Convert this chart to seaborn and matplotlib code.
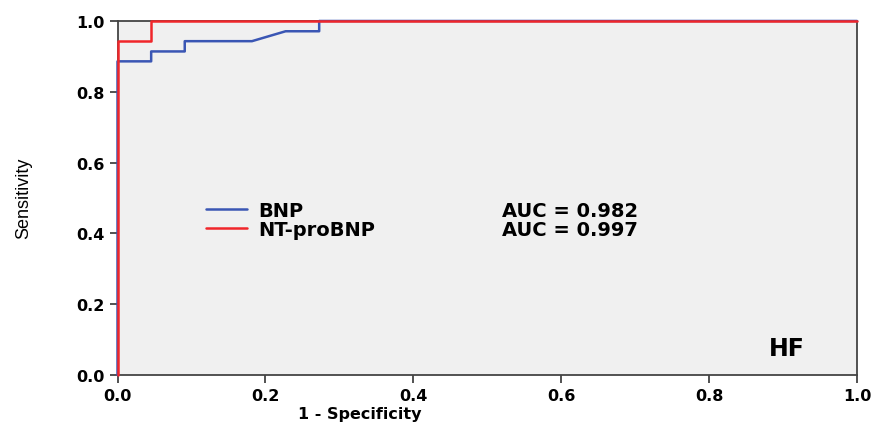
import matplotlib
matplotlib.use("Agg")
import matplotlib.pyplot as plt
import seaborn as sns
import pandas as pd
from matplotlib.lines import Line2D

# ROC points
bnp_fpr = [0.0, 0.0, 0.0455, 0.0455, 0.0909, 0.0909, 0.1818, 0.2273, 0.2727, 0.2727, 1.0]
bnp_tpr = [0.0, 0.886, 0.886, 0.914, 0.914, 0.943, 0.943, 0.971, 0.971, 1.0, 1.0]
nt_fpr = [0.0, 0.0, 0.0455, 0.0455, 1.0]
nt_tpr = [0.0, 0.943, 0.943, 1.0, 1.0]
series_names = ["BNP", "NT-proBNP"]
auc_labels = ["AUC = 0.982", "AUC = 0.997"]
ticks = [0.0, 0.2, 0.4, 0.6, 0.8, 1.0]
colors = {"BNP": "#3A56B4", "NT-proBNP": "#F0262A"}

df = pd.concat([
    pd.DataFrame({"fpr": bnp_fpr, "tpr": bnp_tpr, "test": "BNP"}),
    pd.DataFrame({"fpr": nt_fpr, "tpr": nt_tpr, "test": "NT-proBNP"}),
])

sns.set_style("white")
plt.rcParams["font.family"] = ["DejaVu Sans"]
plt.rcParams["text.color"] = "black"
plt.rcParams["axes.labelcolor"] = "black"
plt.rcParams["xtick.color"] = "black"
plt.rcParams["ytick.color"] = "black"

fig = plt.figure(figsize=(8.79, 4.27), dpi=100)
ax = fig.add_axes([0.1337, 0.1194, 0.8413, 0.8291])
ax.set_facecolor("#F0F0F0")

for name in series_names:
    sub = df[df["test"] == name]
    sns.lineplot(data=sub, x="fpr", y="tpr", sort=False, estimator=None,
                 color=colors[name], lw=1.8, ax=ax, legend=False,
                 zorder=3, clip_on=False)

ax.set_xlim(0, 1)
ax.set_ylim(0, 1)
ax.set_xticks(ticks)
ax.set_yticks(ticks)
ax.set_xticklabels([f"{t:.1f}" for t in ticks], fontsize=11.5, fontweight="bold")
ax.set_yticklabels([f"{t:.1f}" for t in ticks], fontsize=11.5, fontweight="bold")
ax.tick_params(axis="both", direction="out", length=6, width=1.2, color="#333333",
               labelcolor="black", pad=3)
ax.tick_params(axis="both", which="both", bottom=True, left=True)
for s in ax.spines.values():
    s.set_color("#444444")
    s.set_linewidth(1.3)

ax.set_xlabel("1 - Specificity", fontsize=11.5, fontweight="bold", color="black")
ax.xaxis.set_label_coords(0.328, -0.088)
ax.set_ylabel("Sensitivity", fontsize=13, color="black",
              family=["Liberation Sans Narrow", "Liberation Sans", "DejaVu Sans"])
ax.yaxis.set_label_coords(-0.115, 0.503)

handles = [Line2D([0], [0], color=colors[n], lw=1.8) for n in series_names]
leg = ax.legend(handles, series_names, loc="center left", bbox_to_anchor=(0.12, 0.438),
                frameon=False, fontsize=14, handlelength=2.1, handletextpad=0.55,
                labelspacing=0.0, borderaxespad=0, borderpad=0)
for t in leg.get_texts():
    t.set_fontweight("bold")
    t.set_color("black")

ax.text(0.612, 0.466, auc_labels[0], transform=ax.transAxes, ha="center", va="center",
        fontsize=14, fontweight="bold", color="black")
ax.text(0.612, 0.41, auc_labels[1], transform=ax.transAxes, ha="center", va="center",
        fontsize=14, fontweight="bold", color="black")

ax.text(0.905, 0.076, "HF", transform=ax.transAxes, ha="center", va="center",
        fontsize=17, fontweight="bold", color="black")

fig.savefig("out.png", dpi=100)
